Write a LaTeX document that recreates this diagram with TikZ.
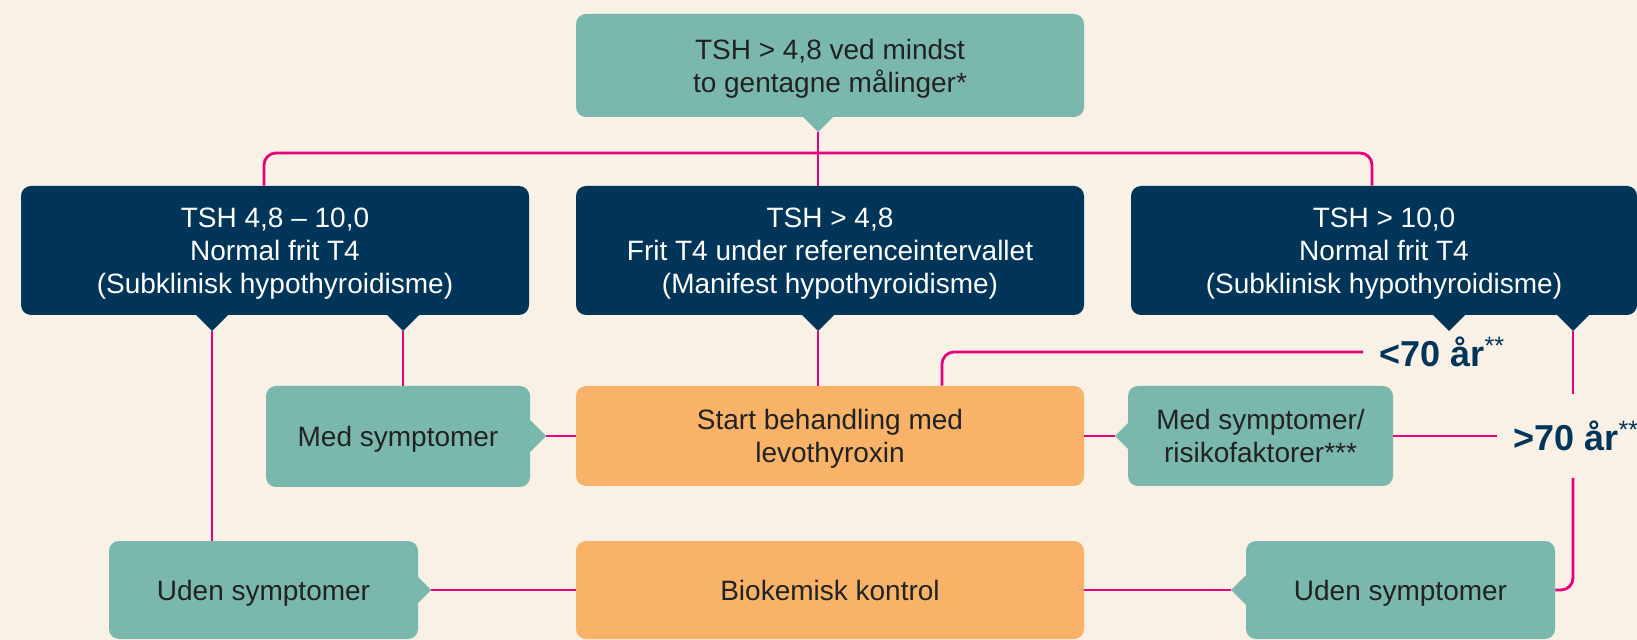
\documentclass[tikz,border=0pt]{standalone}
\usepackage{fontspec}
\setmainfont{Liberation Sans}
\usetikzlibrary{positioning,calc}
\definecolor{cBg}{HTML}{F9F0E6}
\definecolor{cTeal}{HTML}{7AB8AE}
\definecolor{cNavy}{HTML}{00355A}
\definecolor{cOrange}{HTML}{F8B368}
\definecolor{cLink}{HTML}{E6007E}
\definecolor{cInk}{HTML}{222222}
\tikzset{
  box/.style={rounded corners=5pt,align=center,font=\fontsize{14}{16.5}\selectfont,inner sep=0pt,text depth=0pt},
  tnode/.style={box,fill=cTeal,text=cInk}, nnode/.style={box,fill=cNavy,text=white},
  onode/.style={box,fill=cOrange,text=cInk},
  link/.style={draw=cLink,line width=1.4pt,rounded corners=6pt},
  age/.style={font=\fontsize{18}{20}\selectfont\bfseries,text=cNavy,anchor=west,inner xsep=8pt,inner ysep=0pt,minimum height=41.5pt}}
\newcommand{\tipmark}[3]{\fill[#3,shift={(#1)},rotate=#2] (0,0) -- (-16,-16) -- (-16,16) -- cycle;}
\newcommand{\stars}{\textsuperscript{\mdseries **}}

\begin{document}
\begin{tikzpicture}[x=0.5pt,y=-0.5pt]
\fill[cBg] (0,0) rectangle (1637,640);
\useasboundingbox (0,0) rectangle (1637,640);
% boxes
\node[tnode,minimum width=254pt,minimum height=51.5pt] (tsh) at (830,65.5) {TSH > 4,8 ved mindst\\ to gentagne målinger*};
\node[nnode,minimum width=254pt,minimum height=64.5pt] (dl) at (275,250.5) {TSH 4,8 -- 10,0\\ Normal frit T4\\ (Subklinisk hypothyroidisme)};
\node[nnode,minimum width=254pt,minimum height=64.5pt] (dm) at (830,250.5) {TSH > 4,8\\ Frit T4 under referenceintervallet\\ (Manifest hypothyroidisme)};
\node[nnode,minimum width=253pt,minimum height=64.5pt] (dr) at (1384,250.5) {TSH > 10,0\\ Normal frit T4\\ (Subklinisk hypothyroidisme)};
\node[tnode,minimum width=132pt,minimum height=50.5pt] (medl) at (398,436.5) {Med symptomer};
\node[onode,minimum width=254pt,minimum height=50pt] (start) at (830,436) {Start behandling med\\ levothyroxin};
\node[tnode,minimum width=132.5pt,minimum height=50pt] (medr) at (1260.5,436) {Med symptomer/\\ risikofaktorer***};
\node[tnode,minimum width=154.5pt,minimum height=49pt] (udenl) at (263.5,590) {Uden symptomer};
\node[onode,minimum width=254pt,minimum height=49pt] (bio) at (830,590) {Biokemisk kontrol};
\node[tnode,minimum width=154.5pt,minimum height=49pt] (udenr) at (1400.5,590) {Uden symptomer};
\node[age] (lt70) at (1363,352) {<70 år\stars};
\node[age] (gt70) at (1497,436) {>70 år\stars};
% pointer tips
\coordinate (tTop) at (818,132); \coordinate (tDL1) at (212,331); \coordinate (tDL2) at (403,331);
\coordinate (tDM) at (818,331); \coordinate (tDR1) at (1449,331); \coordinate (tDR2) at (1573,331);
\coordinate (tML) at (546,436); \coordinate (tMR) at (1115,436);
\coordinate (tUL) at (431,590); \coordinate (tUR) at (1231,590);
\tipmark{tTop}{-90}{cTeal}
\tipmark{tDL1}{-90}{cNavy} \tipmark{tDL2}{-90}{cNavy} \tipmark{tDM}{-90}{cNavy}
\tipmark{tDR1}{-90}{cNavy} \tipmark{tDR2}{-90}{cNavy}
\tipmark{tML}{0}{cTeal} \tipmark{tMR}{180}{cTeal}
\tipmark{tUL}{0}{cTeal} \tipmark{tUR}{180}{cTeal}
% connectors
\coordinate (brL) at (264,153); \coordinate (brR) at (1372,153); \coordinate (up) at (942,352);
\draw[link] (tTop) -- (tTop |- dm.north);
\draw[link] (dl.north -| brL) |- (brR) -- (dr.north -| brR);
\draw[link] (tDL1) -- (tDL1 |- udenl.north);
\draw[link] (tDL2) -- (tDL2 |- medl.north);
\draw[link] (tDM) -- (tDM |- start.north);
\draw[link] (tML) -- (start.west); \draw[link] (start.east) -- (tMR);
\draw[link] (start.north -| up) |- (lt70.west);
\draw[link] (medr.east) -- (gt70.west);
\draw[link] (tDR2) -- (tDR2 |- gt70.north);
\draw[link] (tDR2 |- gt70.south) |- (udenr.east);
\draw[link] (tUL) -- (bio.west); \draw[link] (bio.east) -- (tUR);
\end{tikzpicture}
\end{document}
